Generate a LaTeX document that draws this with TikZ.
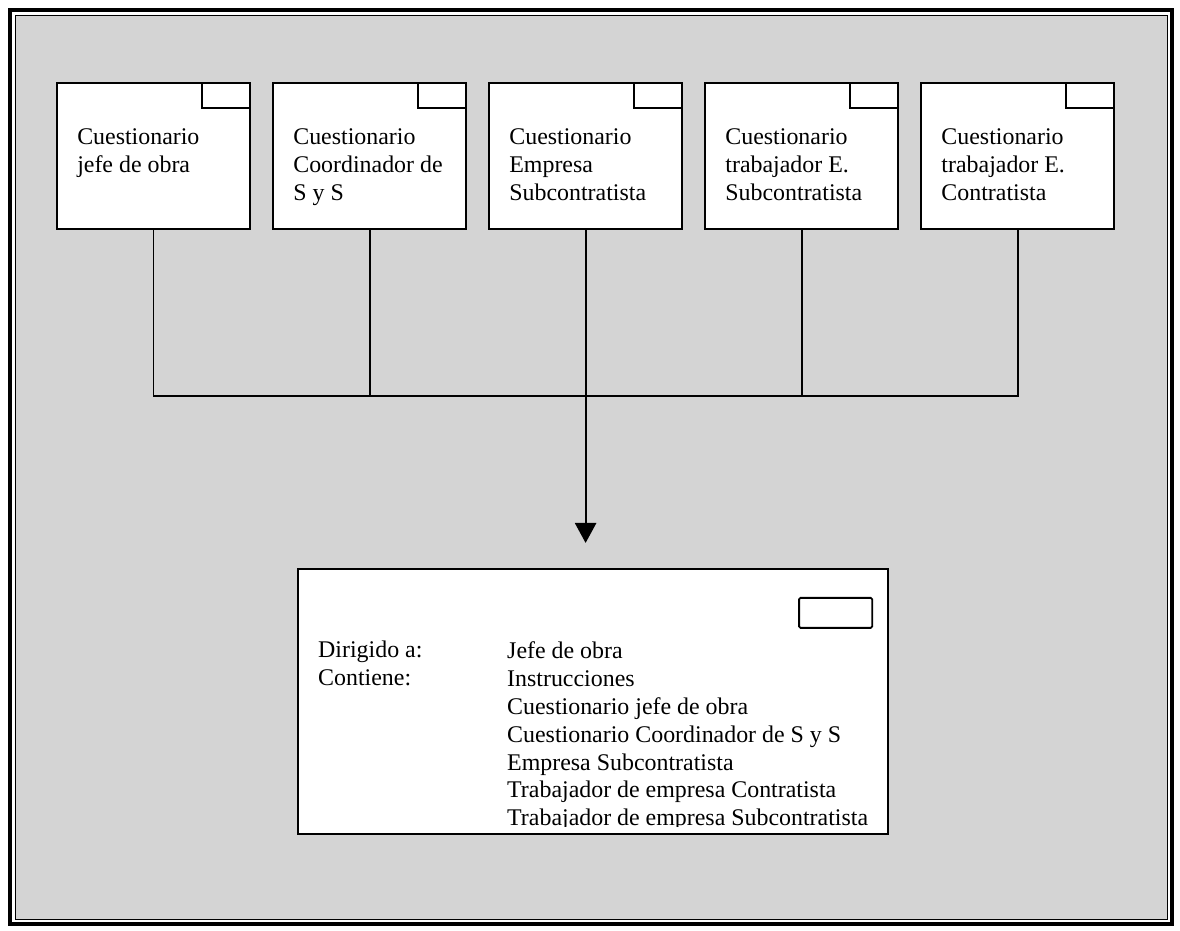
\documentclass[tikz,border=0pt]{standalone}
\usepackage{fontspec}
\setmainfont{Liberation Serif}
\usetikzlibrary{arrows.meta, calc, positioning}
\definecolor{fondo}{gray}{0.83}
\tikzset{
  x=0.025cm, y=-0.025cm,
  every node/.style={font=\fontsize{17}{19.9}\selectfont},
  cuest/.style={draw, line width=1.6pt, fill=white, minimum width=4.825cm, minimum height=3.65cm, inner sep=0pt, outer sep=0pt,
    path picture={\draw[line width=1.6pt] ([xshift=-1.2cm]path picture bounding box.north east) |- ([yshift=-0.625cm]path picture bounding box.north east);}},
  resbox/.style={draw, line width=1.6pt, fill=white, minimum width=14.75cm, minimum height=6.625cm, inner sep=0pt, outer sep=0pt},
  casillabox/.style={draw, line width=1.3pt, rounded corners=1pt, minimum width=1.825cm, minimum height=0.75cm, inner sep=0pt, anchor=north east},
  txt/.style={anchor=north west, align=left, inner sep=0pt},
  alin/.style={line width=1.4pt},
  pto/.style={-{Triangle[length=0.5cm,width=0.53cm]}, line width=1.4pt, shorten >=0.65cm},
  marco/.style={line width=2.2pt},
  marcoint/.style={line width=0.7pt}
}

\begin{document}
\begin{tikzpicture}
    \useasboundingbox (0,0) rectangle (1180,931);
    \fill[fondo] (15,15) rectangle (1167,919);
    \draw[marco] (10,10) rectangle (1172,924);
    \draw[marcoint] (15,15) rectangle (1167,919);

    \node[cuest] (jefe) at (153.5,156) {};
    \node[cuest, right=0.575cm of jefe] (coord) {};
    \node[cuest, right=0.575cm of coord] (empresa) {};
    \node[cuest, right=0.575cm of empresa] (trab_sub) {};
    \node[cuest, right=0.575cm of trab_sub] (trab_con) {};

    \node[txt] (jefe_txt) at ($(jefe.north west)+(20,45)$) {Cuestionario\\jefe de obra};
    \node[txt] (coord_txt) at ($(coord.north west)+(20,45)$) {Cuestionario\\Coordinador de\\S y S};
    \node[txt] (empresa_txt) at ($(empresa.north west)+(20,45)$) {Cuestionario\\Empresa\\Subcontratista};
    \node[txt] (trab_sub_txt) at ($(trab_sub.north west)+(20,45)$) {Cuestionario\\trabajador E.\\Subcontratista};
    \node[txt] (trab_con_txt) at ($(trab_con.north west)+(20,45)$) {Cuestionario\\trabajador E.\\Contratista};

    \node[resbox] (resumen) at (593,701.5) {};
    \node[casillabox] (casilla) at ($(resumen.north east)+(-15,28)$) {};

    \coordinate (union) at ($(empresa.south)+(0,167)$);
    \draw[alin] (jefe.south) -- (jefe.south |- union) -- (trab_con.south |- union) -- (trab_con.south);
    \draw[alin] (coord.south) -- (coord.south |- union);
    \draw[alin] (trab_sub.south) -- (trab_sub.south |- union);
    \draw[pto] (empresa.south) -- (empresa.south |- resumen.north);

    \begin{scope}
      \clip (resumen.north west) rectangle ([yshift=0.2cm]resumen.south east);
      \node[txt] (dirigido) at ($(resumen.north west)+(20,72)$) {Dirigido a:\\Contiene:};
      \node[txt] (lista) at ($(resumen.north west)+(209,72)$) {Jefe de obra\\Instrucciones\\Cuestionario jefe de obra\\Cuestionario Coordinador de S y S\\Empresa Subcontratista\\Trabajador de empresa Contratista\\Trabajador de empresa Subcontratista};
    \end{scope}
  \end{tikzpicture}
\end{document}
